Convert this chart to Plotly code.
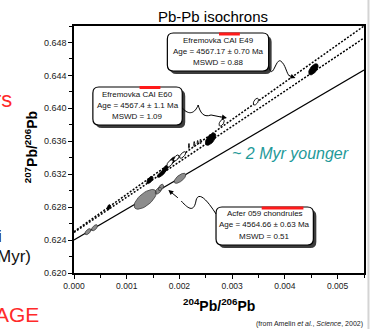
import numpy as np
import plotly.graph_objects as go

# ---------------- data ----------------
# Isochron lines (intercept at 204Pb/206Pb = 0, slope)
iso_names = ["E49", "E60", "Acfer"]
iso_intercepts = [0.62502, 0.62492, 0.62401]
iso_slopes = [4.542, 4.295, 3.754]

# Acfer 059 chondrules (grey ellipses)
acfer_x = [0.000264, 0.00039, 0.00135, 0.0016, 0.00165, 0.00201]
acfer_y = [0.62502, 0.62550, 0.62895, 0.63000, 0.63038, 0.63150]
acfer_ex = [0.000057, 0.000057, 0.00021, 0.00006, 0.00005, 0.00011]
acfer_ey = [0.0003, 0.0003, 0.0009, 0.00035, 0.00035, 0.00045]

# CAI fractions (black ellipses)
cai_x = [0.00066, 0.00144, 0.00166, 0.00173, 0.00187, 0.00259, 0.00454]
cai_y = [0.62798, 0.6313, 0.63208, 0.63263, 0.63366, 0.63625, 0.64474]
cai_ex = [0.00003, 0.00006, 0.00008, 0.00006, 0.00006, 0.0001, 0.00009]
cai_ey = [0.0003, 0.00035, 0.0003, 0.00035, 0.00035, 0.0006, 0.00055]

# CAI fractions (open ellipses)
open_x = [0.00182, 0.00194, 0.00206, 0.0028, 0.00345, 0.00218, 0.00228, 0.002345, 0.0024]
open_y = [0.63332, 0.63397, 0.63433, 0.63826, 0.64081, 0.63543, 0.63567, 0.63585, 0.63597]
open_ex = [0.00006, 0.00005, 0.00006, 0.00005, 0.00005, 0.00001, 0.00001, 0.00001, 0.00001]
open_ey = [0.00035, 0.0003, 0.0003, 0.00035, 0.00035, 0.0003, 0.0003, 0.00025, 0.0003]

box_lines = {
    "E49": ["Efremovka CAI E49", "Age = 4567.17 ± 0.70 Ma", "MSWD = 0.88"],
    "E60": ["Efremovka CAI E60", "Age = 4567.4 ± 1.1 Ma", "MSWD = 1.09"],
    "Acfer": ["Acfer 059 chondrules", "Age = 4564.66 ± 0.63 Ma", "MSWD = 0.51"],
}

X_RANGE = [0, 0.0055]
Y_RANGE = [0.620, 0.650]

# ---------------- layout geometry ----------------
W, H = 377, 329
ML, MR, MT, MB = 74, 11, 26, 56
PW, PH = W - ML - MR, H - MT - MB
FONT = "Liberation Sans, Arial, sans-serif"


def PX(x):
    return (x - ML) / PW


def PY(y):
    return (H - MB - y) / PH


def ellipses(xs, ys, exs, eys, slope):
    t = np.linspace(0, 2 * np.pi, 40)
    ox, oy = [], []
    for cx, cy, ex, ey in zip(xs, ys, exs, eys):
        ox += list(cx + ex * np.cos(t)) + [None]
        oy += list(cy + slope * ex * np.cos(t) + ey * np.sin(t)) + [None]
    return ox, oy


fig = go.Figure()

# isochron lines
xl = np.array(X_RANGE)
styles = {"E49": dict(dash="2px,1.6px", width=1.5), "E60": dict(dash="2px,1.6px", width=1.5),
          "Acfer": dict(dash="solid", width=1.1)}
for name, b, m in zip(iso_names, iso_intercepts, iso_slopes):
    fig.add_trace(go.Scatter(x=xl, y=b + m * xl, mode="lines",
                             line=dict(color="black", **styles[name]),
                             showlegend=False, hoverinfo="skip"))

ax_, ay_ = ellipses(acfer_x, acfer_y, acfer_ex, acfer_ey, iso_slopes[2])
fig.add_trace(go.Scatter(x=ax_, y=ay_, mode="lines", fill="toself",
                         fillcolor="#8c8c8c", line=dict(color="#3a3a3a", width=0.8),
                         showlegend=False, hoverinfo="skip"))
bx_, by_ = ellipses(cai_x, cai_y, cai_ex, cai_ey, 4.4)
fig.add_trace(go.Scatter(x=bx_, y=by_, mode="lines", fill="toself",
                         fillcolor="black", line=dict(color="black", width=0.8),
                         showlegend=False, hoverinfo="skip"))
ox_, oy_ = ellipses(open_x, open_y, open_ex, open_ey, 4.4)
fig.add_trace(go.Scatter(x=ox_, y=oy_, mode="lines", fill="toself",
                         fillcolor="white", line=dict(color="black", width=0.9),
                         showlegend=False, hoverinfo="skip"))

shapes = []
annotations = []


def to_path(cmds):
    s = ""
    for p in cmds:
        cmd = p[0]
        coords = p[1:]
        s += cmd + " " + " ".join(
            f"{PX(coords[i]):.5f},{PY(coords[i + 1]):.5f}" for i in range(0, len(coords), 2)) + " "
    return s


def rrect(x0, y0, x1, y1, r):
    pts = [("M", x0 + r, y0), ("L", x1 - r, y0), ("Q", x1, y0, x1, y0 + r),
           ("L", x1, y1 - r), ("Q", x1, y1, x1 - r, y1), ("L", x0 + r, y1),
           ("Q", x0, y1, x0, y1 - r), ("L", x0, y0 + r), ("Q", x0, y0, x0 + r, y0)]
    return to_path(pts) + "Z"


boxes = {
    "E49": dict(rect=(168, 33, 270, 71), cx=219, ty=(40.5, 51.5, 62), bar=(220, 241, 34)),
    "E60": dict(rect=(93, 87, 183, 125), cx=138, ty=(94, 105, 116.5), bar=(140, 161, 87.5)),
    "Acfer": dict(rect=(217, 207, 315, 245), cx=266, ty=(213.5, 224.5, 236), bar=(263, 305, 208)),
}

for key, b in boxes.items():
    x0, y0, x1, y1 = b["rect"]
    shapes.append(dict(type="path", xref="paper", yref="paper",
                       path=rrect(x0 + 3, y0 + 3, x1 + 3, y1 + 3, 6),
                       fillcolor="#3c3c3c", line=dict(width=0)))
    shapes.append(dict(type="path", xref="paper", yref="paper",
                       path=rrect(x0, y0, x1, y1, 6),
                       fillcolor="white", line=dict(color="black", width=1.2)))
    for txt, ty in zip(box_lines[key], b["ty"]):
        annotations.append(dict(x=PX(b["cx"]), y=PY(ty), xref="paper", yref="paper",
                                text=txt, showarrow=False, xanchor="center", yanchor="middle",
                                font=dict(family=FONT, size=8, color="#111")))
    bx0, bx1, by = b["bar"]
    shapes.append(dict(type="line", xref="paper", yref="paper",
                       x0=PX(bx0), x1=PX(bx1), y0=PY(by), y1=PY(by),
                       line=dict(color="#ff1a1a", width=3)))

# wavy leaders
leaders = [
    [("M", 270, 66), ("C", 274, 82, 277, 58, 282, 61), ("C", 287, 64, 288, 74, 291, 76)],
    [("M", 183, 108), ("C", 190, 116, 196, 113, 199, 105), ("C", 201, 112, 204, 118, 212, 115),
     ("L", 222, 117)],
    [("M", 217, 214), ("C", 210, 203, 200, 190, 197, 200), ("C", 195, 212, 190, 210, 182, 201)],
]
for ld in leaders:
    shapes.append(dict(type="path", xref="paper", yref="paper", path=to_path(ld),
                       line=dict(color="black", width=1)))
arrows = [((297, 78), (289, 75)), ((228, 118), (220, 116.5)), ((169, 190), (180, 199))]
for (tx, ty), (sx, sy) in arrows:
    annotations.append(dict(x=PX(tx), y=PY(ty), xref="paper", yref="paper", text="",
                            showarrow=True, arrowhead=2, arrowsize=1, arrowwidth=1,
                            arrowcolor="black", ax=sx - tx, ay=sy - ty))

# text
texts = [
    dict(x=PX(214), y=PY(17), text="Pb-Pb isochrons", font=dict(family=FONT, size=15, color="black")),
    dict(x=PX(220), y=PY(305), text="<b><sup>204</sup>Pb/<sup>206</sup>Pb</b>",
         font=dict(family=FONT, size=14, color="black")),
    dict(x=PX(31), y=PY(147), text="<b><sup>207</sup>Pb/<sup>206</sup>Pb</b>", textangle=-90,
         font=dict(family=FONT, size=14, color="black")),
    dict(x=PX(292), y=PY(153), text="<i>~ 2 Myr younger</i>",
         font=dict(family=FONT, size=16, color="#1f9a9a")),
    dict(x=PX(367), y=PY(324), text="(from Amelin <i>et al.</i>, <i>Science</i>, 2002)",
         xanchor="right", font=dict(family=FONT, size=7, color="#222")),
    dict(x=PX(14), y=PY(99), text="rs", xanchor="right", font=dict(family=FONT, size=22, color="#ff2a2a")),
    dict(x=PX(3.5), y=PY(236), text="i", xanchor="right", font=dict(family=FONT, size=17, color="#111")),
    dict(x=PX(33), y=PY(256), text="Myr)", xanchor="right", font=dict(family=FONT, size=17, color="#111")),
    dict(x=PX(41), y=PY(314), text="AGE", xanchor="right", font=dict(family=FONT, size=21, color="#ff2a2a")),
]
for a in texts:
    a.setdefault("xref", "paper")
    a.setdefault("yref", "paper")
    a.setdefault("showarrow", False)
    a.setdefault("yanchor", "middle")
    a.setdefault("xanchor", "center")
annotations += texts

# slide divider line on the right
shapes.append(dict(type="line", xref="paper", yref="paper", x0=PX(370.5), x1=PX(370.5),
                   y0=PY(0), y1=PY(H), line=dict(color="#d4d4d4", width=2)))

axis_common = dict(showline=True, linecolor="black", linewidth=1.5, mirror=True,
                   ticks="outside", ticklen=4, tickwidth=1, tickcolor="black",
                   showgrid=False, zeroline=False,
                   tickfont=dict(family=FONT, size=8.5, color="#222"))
fig.update_layout(
    width=W, height=H, autosize=False,
    margin=dict(l=ML, r=MR, t=MT, b=MB),
    paper_bgcolor="white", plot_bgcolor="white",
    xaxis=dict(range=X_RANGE, tickvals=[0, 0.001, 0.002, 0.003, 0.004, 0.005],
               ticktext=["0.000", "0.001", "0.002", "0.003", "0.004", "0.005"],
               minor=dict(dtick=0.0005, ticks="outside", ticklen=3, tickcolor="black"),
               **axis_common),
    yaxis=dict(range=Y_RANGE, tickvals=[0.620, 0.624, 0.628, 0.632, 0.636, 0.640, 0.644, 0.648],
               ticktext=["0.620", "0.624", "0.628", "0.632", "0.636", "0.640", "0.644", "0.648"],
               minor=dict(dtick=0.002, ticks="outside", ticklen=3, tickcolor="black"),
               **axis_common),
    shapes=shapes, annotations=annotations, showlegend=False,
)
fig.update_yaxes(tickfont=dict(size=9))

fig.write_html("out.html", config={"displayModeBar": False},
               post_script="document.body.style.margin='0';document.body.style.overflow='hidden';")
